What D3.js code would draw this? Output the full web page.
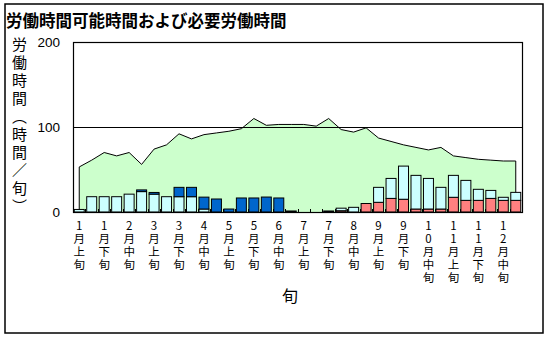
<!DOCTYPE html>
<html><head><meta charset="utf-8">
<script src="https://cdn.jsdelivr.net/npm/d3@7"></script>
<style>
html,body{margin:0;padding:0;background:#fff;}
svg{display:block;}
.vt{writing-mode:vertical-rl;text-orientation:upright;}
</style>
</head><body>
<svg id="chart" width="549" height="338"></svg>
<script>
// ---- data ----
const title = "労働時間可能時間および必要労働時間";
const months = ["1","2","3","4","5","6","7","8","9","10","11","12"];
const jun = ["上","中","下"];
const categories = [];
months.forEach(m => jun.forEach(j => categories.push(m + "月" + j + "旬")));
const availableHours = [53,61,70,66,70,56,74,79,92,86,91,93,95,98,110,102,103,103,
                        103,101,110,97,94,99,87,83,79,76,73,76,66,64,62,61,60,60];
const pinkHours = [0,0,0,0,0,0,0,0,0,0,0,0,0,0,0,0,0,0,
                   0,0,0,1.5,0,10,11.4,16,15,3.5,3.5,3.5,17.3,13.7,13.7,16,13.7,13.7];
const cyanHours = [3,18,18,18,21,24,21,18,18,18,3.5,0,0,0,0,0,0,0,
                   0,0,0,3,5.5,0,17.6,23.5,39,39.6,36,25.5,25.8,23.5,13,9.4,3.6,9.4];
const blueHours = [0,0,0,0,0,2,2,0,11,11,14,15.3,3.5,16.5,16.5,17.6,16.5,1.2,
                   0,0,1.2,0,0,0,0,0,0,0,0,0,0,0,0,0,0,0];
const yTicks = [0,100,200];
const yTitle = "労働時間（時間／旬）";
const xTitle = "旬";

// ---- layout ----
const svg = d3.select("#chart");
const L = 73, R = 522, T = 42, B = 212;
const jp = "'Noto Sans CJK JP', sans-serif";
const num = "'Liberation Sans', Arial, sans-serif";

svg.append("rect").attr("x",5).attr("y",4).attr("width",538).attr("height",329)
  .attr("fill","#fff").attr("stroke","#000").attr("stroke-width",1.5);

svg.append("text").attr("x",6).attr("y",20).attr("dominant-baseline","central")
  .attr("font-family",jp).attr("font-weight","bold").attr("font-size",16.5)
  .attr("fill","#000").text(title);

const x = d3.scaleBand().domain(categories).range([L,R]).paddingInner(0.2).paddingOuter(0.1);
const xs = d3.scaleBand().domain(categories).range([L,R]);
const y = d3.scaleLinear().domain([0,200]).range([B,T]);
const cxOf = i => xs(categories[i]) + xs.bandwidth()/2;

// area
const area = d3.area().x((d,i) => cxOf(i)).y0(y(0)).y1(d => y(d));
svg.append("path").datum(availableHours).attr("d",area).attr("fill","#CCFFCC").attr("stroke","none");
const outline = [[0,0]].concat(availableHours.map((d,i)=>[i,d])).concat([[categories.length-1,0]]);
svg.append("path")
  .attr("d", d3.line().x(p => cxOf(p[0])).y(p => y(p[1]))(outline))
  .attr("fill","none").attr("stroke","#000").attr("stroke-width",1);

// gridline at 100
svg.append("line").attr("x1",L).attr("x2",R).attr("y1",Math.round(y(100))+0.5).attr("y2",Math.round(y(100))+0.5)
  .attr("stroke","#000").attr("stroke-width",1);

// stacked bars
const rows = categories.map((c,i)=>({cat:c, pink:pinkHours[i], cyan:cyanHours[i], blue:blueHours[i]}));
const keys = ["pink","cyan","blue"];
const colors = {pink:"#FF8080", cyan:"#CCFFFF", blue:"#0066CC"};
const stack = d3.stack().keys(keys)(rows);
stack.forEach(s => {
  svg.append("g").selectAll("rect").data(s.filter(d => d[1]-d[0] > 0)).join("rect")
    .attr("x", d => x(d.data.cat))
    .attr("width", x.bandwidth())
    .attr("y", d => y(d[1]))
    .attr("height", d => Math.max(1, y(d[0]) - y(d[1])))
    .attr("fill", colors[s.key]).attr("stroke","#000").attr("stroke-width",1);
});

// plot frame
svg.append("rect").attr("x",L+0.5).attr("y",T+0.5).attr("width",R-L).attr("height",B-T)
  .attr("fill","none").attr("stroke","#000").attr("stroke-width",1.2);

// x ticks at band boundaries (inward)
const bounds = categories.map(c => xs(c)).slice(1);
svg.append("g").selectAll("line").data(bounds).join("line")
  .attr("x1",d=>Math.round(d)+0.5).attr("x2",d=>Math.round(d)+0.5)
  .attr("y1",B).attr("y2",B-3).attr("stroke","#000");

// y tick labels
svg.append("g").selectAll("text").data(yTicks).join("text")
  .attr("x",60).attr("y",d=>y(d)).attr("text-anchor","end").attr("dominant-baseline","central")
  .attr("font-family",num).attr("font-size",13.5).attr("fill","#000").text(d=>d);

// y axis title (vertical writing)
svg.append("text").attr("class","vt").attr("x",19.5).attr("y",36.5)
  .attr("font-family",jp).attr("font-size",15).attr("letter-spacing",3)
  .attr("fill","#000").text(yTitle);

// x labels, every other period, vertical writing
svg.append("g").selectAll("text").data(categories.filter((c,i)=>i%2===0)).join("text")
  .attr("class","vt")
  .attr("x",c => xs(c) + xs.bandwidth()/2).attr("y",220.25)
  .attr("font-family",jp).attr("font-size",11.5).attr("letter-spacing",1.5)
  .attr("fill","#000").text(c => c);

svg.append("text").attr("x",290).attr("y",295).attr("text-anchor","middle").attr("dominant-baseline","central")
  .attr("font-family",jp).attr("font-size",16).attr("fill","#000").text(xTitle);
</script>
</body></html>
